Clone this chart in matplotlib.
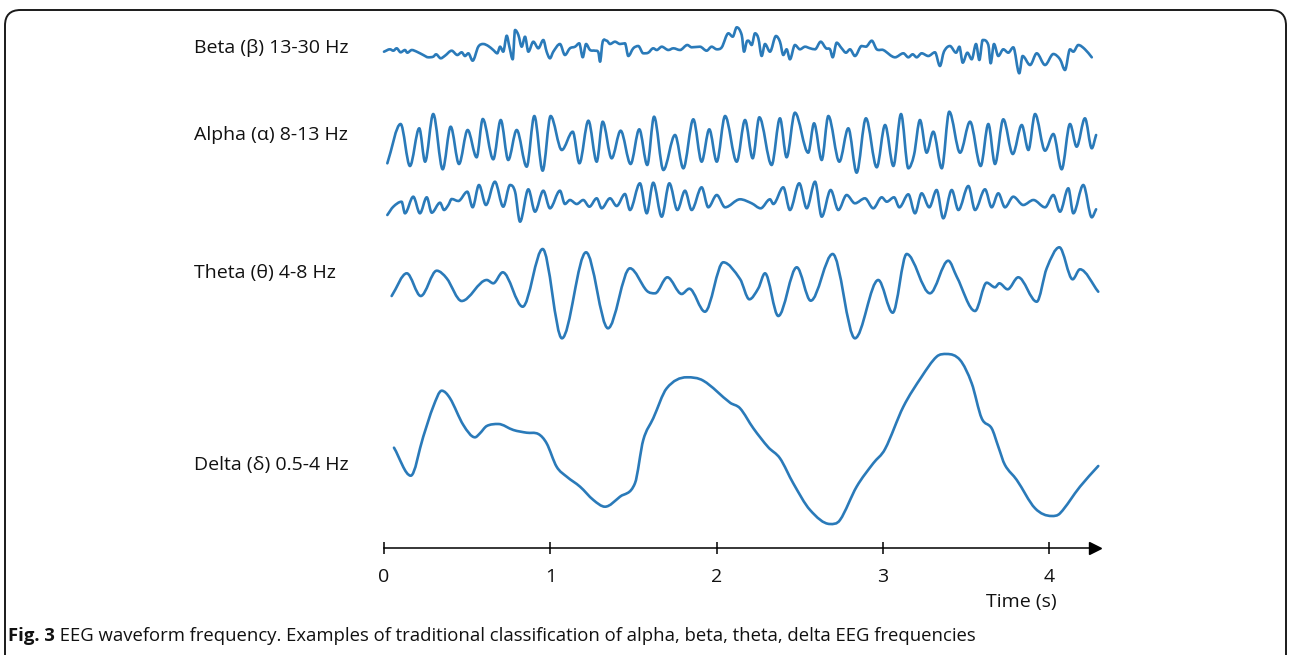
import numpy as np
import matplotlib
matplotlib.use("Agg")
import matplotlib.pyplot as plt
from matplotlib.path import Path
from matplotlib.patches import PathPatch, FancyBboxPatch

# ---- data: time (s) and amplitude (arbitrary units) ----
beta_t = [0.000, 0.036, 0.056, 0.076, 0.100, 0.126, 0.140, 0.167, 0.197, 0.236, 0.266, 0.296,
          0.313, 0.341, 0.367, 0.407, 0.441, 0.467, 0.487, 0.507, 0.533, 0.567, 0.597, 0.627,
          0.657, 0.681, 0.698, 0.717, 0.738, 0.754, 0.774, 0.788, 0.808, 0.828, 0.848, 0.868,
          0.898, 0.928, 0.958, 0.978, 0.998, 1.018, 1.058, 1.088, 1.118, 1.149, 1.174, 1.195,
          1.215, 1.239, 1.269, 1.289, 1.299, 1.315, 1.339, 1.359, 1.389, 1.419, 1.449, 1.469,
          1.499, 1.529, 1.559, 1.589, 1.619, 1.640, 1.670, 1.710, 1.740, 1.780, 1.824, 1.850,
          1.900, 1.940, 1.970, 2.001, 2.031, 2.071, 2.097, 2.121, 2.151, 2.165, 2.181, 2.191,
          2.211, 2.231, 2.251, 2.271, 2.291, 2.321, 2.357, 2.381, 2.401, 2.421, 2.441, 2.471,
          2.501, 2.532, 2.562, 2.592, 2.626, 2.658, 2.682, 2.698, 2.722, 2.752, 2.778, 2.802,
          2.832, 2.872, 2.898, 2.933, 2.963, 3.002, 3.073, 3.123, 3.153, 3.179, 3.203, 3.233,
          3.273, 3.313, 3.343, 3.367, 3.403, 3.440, 3.460, 3.480, 3.508, 3.534, 3.560, 3.580,
          3.600, 3.634, 3.648, 3.668, 3.694, 3.724, 3.754, 3.784, 3.820, 3.840, 3.885, 3.925,
          3.975, 4.025, 4.065, 4.095, 4.125, 4.145, 4.175, 4.215, 4.256]
beta_v = [-1.7, 0.7, -0.7, 1.7, -2.3, 0, -2.7, 0, -1.7, -5, -7.3, -6.7,
          -4.3, -8.3, -5.7, -0.7, -5, -2.3, -6, -3.3, -10.7, 3.3, 6, 4,
          0, -3.3, 3.3, -1.7, 14.3, 3.3, -9.3, 20, 15, 3.3, 13.3, -1.7,
          8.3, 1.7, 10, -1.7, -8.3, -1.7, 6, -5, 1.7, 3.3, 6.7, -7.3,
          6, 0, -0.7, -2.3, -11.7, 8.3, 9.3, 6, 8.3, 6, 6.7, -6,
          1.7, 4, -3.3, -2.7, 1.7, 0, 3.3, 0, 1.7, 0, 5, 2.7,
          3.3, -0.7, 3.3, 0.7, 2.7, 16.7, 13.3, 22.7, 15, -1.7, 8.3, 9.3,
          5, 16.7, 11.7, -6, 6, -1.7, 14, 8.3, -5, 0.7, -9.3, 5,
          0.7, 3.3, 1.7, 0.7, 8.3, 1.7, 0.7, -7.3, 7.3, 1.7, -2.7, 0.7,
          -6, 4, 3.3, 9.3, 0.7, 0, -7.3, -3.3, -7.3, -4.3, -7.3, -3.3,
          -6, -2.3, -16, -1.7, 4, -2.7, 3.3, -12.7, -2.7, -9.3, 6, -10,
          10, 5, -13.3, 6, -6, 0.7, -2.7, 2.7, -23.3, -6, -15, -3.3,
          -15, -4, -9.3, -20, 0.7, -1.7, 5, 0.7, -7.3]

alpha1_t = [0.020, 0.100, 0.156, 0.212, 0.247, 0.296, 0.353, 0.401, 0.451, 0.503, 0.557, 0.594,
            0.657, 0.702, 0.747, 0.798, 0.858, 0.904, 0.954, 1.002, 1.069, 1.135, 1.175, 1.229,
            1.279, 1.315, 1.369, 1.423, 1.483, 1.535, 1.583, 1.624, 1.680, 1.750, 1.800, 1.860,
            1.910, 1.956, 2.001, 2.051, 2.121, 2.171, 2.217, 2.257, 2.331, 2.381, 2.421, 2.471,
            2.551, 2.586, 2.632, 2.672, 2.738, 2.792, 2.842, 2.898, 2.963, 3.013, 3.063, 3.109,
            3.153, 3.187, 3.223, 3.263, 3.303, 3.354, 3.399, 3.464, 3.524, 3.588, 3.634, 3.674,
            3.724, 3.781, 3.835, 3.875, 3.915, 3.975, 4.025, 4.075, 4.125, 4.165, 4.215, 4.256,
            4.282]
alpha1_v = [-20.3, 19, -23, 14.7, -18.7, 29, -26.3, 16.3, -21, 13, -14.3, 24,
            -16.3, 23, -17, 13, -23.7, 27, -27.7, 27, -7, 11.3, -20.3, 22.3,
            -18.7, 21.3, -15.3, 12.3, -21, 13.7, -22, 26.3, -27, 8, -25.3, 23.7,
            -18.7, 13.7, -18.7, 27, -18.7, 23, -15.3, 25.7, -22, 24.7, -14.3, 30.3,
            -9.7, 19.7, -17, 27, -18.7, 14.7, -29.7, 24.7, -24.3, 18, -23, 29,
            -25.3, -12, 23, -9.7, 11.3, -25.3, 31.3, -9.7, 21.3, -23, 19, -21,
            23.7, -11, 18, -7, 29, -7.7, 9, -26.3, 19, -3.7, 24.7, -5.3,
            8]

alpha2_t = [0.020, 0.056, 0.106, 0.126, 0.176, 0.216, 0.257, 0.287, 0.337, 0.361, 0.387, 0.407,
            0.447, 0.501, 0.533, 0.571, 0.613, 0.667, 0.717, 0.758, 0.788, 0.818, 0.868, 0.908,
            0.958, 0.998, 1.058, 1.088, 1.118, 1.159, 1.198, 1.235, 1.279, 1.309, 1.359, 1.399,
            1.449, 1.479, 1.539, 1.580, 1.619, 1.670, 1.716, 1.764, 1.810, 1.850, 1.910, 1.950,
            2.001, 2.051, 2.141, 2.211, 2.265, 2.321, 2.341, 2.401, 2.441, 2.497, 2.542, 2.592,
            2.632, 2.686, 2.732, 2.782, 2.832, 2.892, 2.942, 2.993, 3.023, 3.067, 3.099, 3.153,
            3.193, 3.233, 3.279, 3.323, 3.363, 3.414, 3.454, 3.514, 3.554, 3.614, 3.654, 3.694,
            3.734, 3.784, 3.844, 3.905, 3.975, 4.025, 4.065, 4.115, 4.145, 4.205, 4.256, 4.282]
alpha2_v = [-15, -6.7, -1.7, -13.3, 3.3, -13.3, 2.7, -12.7, -2.7, -10, -5, 1,
            -1, 8.3, -7.3, 15, -5, 18.3, -6.7, 15, 8.3, -21.7, 10.7, -11.7,
            9.3, -8.3, 9.3, -4, 0, -4, 0, -6.7, 1.7, -8.3, 1.7, -6,
            6, -10, 16.7, -13.3, 17.3, -16.7, 16.7, -10, 9.3, -10, 12.7, -7.3,
            5, -7.3, 0.7, -3.3, -8.3, 0.7, -4, 12.7, -10, 16.7, -8.3, 18.3,
            -16.7, 10, -10, 5, -3.3, 1.7, -8.3, 2.7, -1.7, 2.7, -7.3, 5.7,
            -13.3, 6.7, -7.3, 10, -18.3, 10, -10, 14, -10, 10.7, -7.3, 6.7,
            -7.3, 3.3, -5, 0, -7.3, 5, -11.7, 11.7, -13.3, 15, -17.3, -9.3]

theta_t = [0.046, 0.137, 0.221, 0.317, 0.377, 0.467, 0.618, 0.657, 0.714, 0.834, 0.954, 1.070,
           1.215, 1.347, 1.479, 1.580, 1.630, 1.704, 1.790, 1.836, 1.930, 2.040, 2.141, 2.197,
           2.251, 2.291, 2.371, 2.482, 2.566, 2.698, 2.832, 2.972, 3.059, 3.143, 3.283, 3.393,
           3.444, 3.554, 3.624, 3.674, 3.700, 3.750, 3.814, 3.925, 3.985, 4.061, 4.141, 4.185,
           4.295]
theta_v = [-11, 11.7, -11, 14.3, 6.7, -16, 5, 1.7, 12.7, -21.7, 36, -53.3,
           32.7, -43.3, 16.7, -5.7, -8.3, 7.7, -9, -3.7, -26.7, 22.7, 6, -14.3,
           -3.3, 11.7, -31, 17.7, -15.7, 31, -53.3, 5, -27.7, 31, -8.3, 24.3,
           8.3, -26, 2.3, -2.3, 1.7, -4.3, 7.7, -16.7, 16.7, 37.7, 5.7, 15.7,
           -6.7]

delta_t = [0.060, 0.161, 0.236, 0.296, 0.347, 0.397, 0.477, 0.547, 0.577, 0.618, 0.687, 0.778,
           0.858, 0.928, 0.978, 1.038, 1.099, 1.179, 1.259, 1.329, 1.419, 1.509, 1.559, 1.619,
           1.700, 1.820, 1.920, 2.081, 2.141, 2.221, 2.311, 2.381, 2.461, 2.562, 2.682, 2.742,
           2.842, 2.942, 3.013, 3.123, 3.233, 3.323, 3.384, 3.464, 3.534, 3.594, 3.654, 3.694,
           3.734, 3.805, 3.915, 4.015, 4.065, 4.185, 4.295]
delta_v = [2.3, -25.7, 13.3, 43.3, 59.3, 51.7, 25, 12.7, 16.7, 24, 26, 20,
           17.3, 16, 6.7, -16.7, -26.7, -36.7, -50, -56.7, -46.7, -33.3, 10, 31.7,
           61.7, 72.7, 69.3, 47.3, 41.7, 21.7, 2.7, -8.3, -33.3, -60, -74, -70,
           -36.7, -13.3, 1, 43.3, 73.3, 93.3, 96, 90, 66.7, 31.7, 21.7, 3.3,
           -15, -30, -58.3, -66, -63.3, -36.7, -16]

labels = ["Beta (β) 13-30 Hz", "Alpha (α) 8-13 Hz", "Theta (θ) 4-8 Hz", "Delta (δ) 0.5-4 Hz"]
ticks = [0, 1, 2, 3, 4]
caption_bold = "Fig. 3"
caption_rest = " EEG waveform frequency. Examples of traditional classification of alpha, beta, theta, delta EEG frequencies"

LINE = "#2a7ab9"
FONT = "Open Sans"


def smooth_path(t, v, offset):
    t = np.asarray(t, float)
    y = np.asarray(v, float) + offset
    n = len(t)
    m = np.zeros(n)
    for i in range(1, n - 1):
        if (y[i] - y[i - 1]) * (y[i + 1] - y[i]) > 0:
            m[i] = (y[i + 1] - y[i - 1]) / (t[i + 1] - t[i - 1])
    m[0] = (y[1] - y[0]) / (t[1] - t[0])
    m[-1] = (y[-1] - y[-2]) / (t[-1] - t[-2])
    verts = [(t[0], y[0])]
    codes = [Path.MOVETO]
    for i in range(n - 1):
        h = t[i + 1] - t[i]
        verts += [(t[i] + h / 3, y[i] + m[i] * h / 3),
                  (t[i + 1] - h / 3, y[i + 1] - m[i + 1] * h / 3),
                  (t[i + 1], y[i + 1])]
        codes += [Path.CURVE4] * 3
    return Path(verts, codes)


W, H = 1290, 655
fig = plt.figure(figsize=(W / 100, H / 100), dpi=100)

# rounded frame around the whole figure (bottom edge runs off the image)
frame = FancyBboxPatch((5 / W, -30 / H), 1281 / W, (H - 10 + 30) / H,
                       boxstyle="round,pad=0,rounding_size=0.012",
                       transform=fig.transFigure, fill=False, ec="#1a1a1a", lw=1.4,
                       mutation_aspect=W / H)
fig.patches.append(frame)

x0, x1 = 384, 1095
ybot, ytop = 548, 10
ax = fig.add_axes([x0 / W, (H - ybot) / H, (x1 - x0) / W, (ybot - ytop) / H])
ax.set_xlim(0, (x1 - x0) / 166.3)
ax.set_ylim(0, ybot - ytop)

series = [(beta_t, beta_v, 498), (alpha1_t, alpha1_v, 405), (alpha2_t, alpha2_v, 348),
          (theta_t, theta_v, 263), (delta_t, delta_v, 98)]
for t, v, off in series:
    ax.add_patch(PathPatch(smooth_path(t, v, off), fill=False, ec=LINE, lw=1.9,
                           capstyle="round", joinstyle="round", clip_on=False))

label_y = [500, 413, 275, 83]
for lab, ly in zip(labels, label_y):
    ax.text(-1.1425, ly, lab, fontsize=14, family=FONT, va="center", ha="left",
            color="#111111", clip_on=False)

for s in ["top", "right", "left"]:
    ax.spines[s].set_visible(False)
ax.spines["bottom"].set_linewidth(1.1)
ax.set_yticks([])
ax.set_xticks(ticks)
ax.set_xticklabels([str(k) for k in ticks], fontsize=14, family=FONT, color="#111111")
ax.tick_params(axis="x", direction="inout", length=9, width=1.1, pad=10)
ax.plot(1, 0, ">", color="black", markersize=8, transform=ax.transAxes, clip_on=False)
ax.text(4.047, -54, "Time (s)", fontsize=14, family=FONT, ha="right", va="center",
        color="#111111", clip_on=False)

# caption: bold lead-in followed by regular text
cy = (H - 636) / H
t1 = fig.text(8 / W, cy, caption_bold, fontsize=13.3, family=FONT, weight="bold",
              va="center", ha="left", color="#111111")
fig.canvas.draw()
bb = t1.get_window_extent()
fig.text(bb.x1 / W, cy, caption_rest, fontsize=13.3, family=FONT, va="center", ha="left",
         color="#111111")

fig.savefig("out.png", dpi=100)
